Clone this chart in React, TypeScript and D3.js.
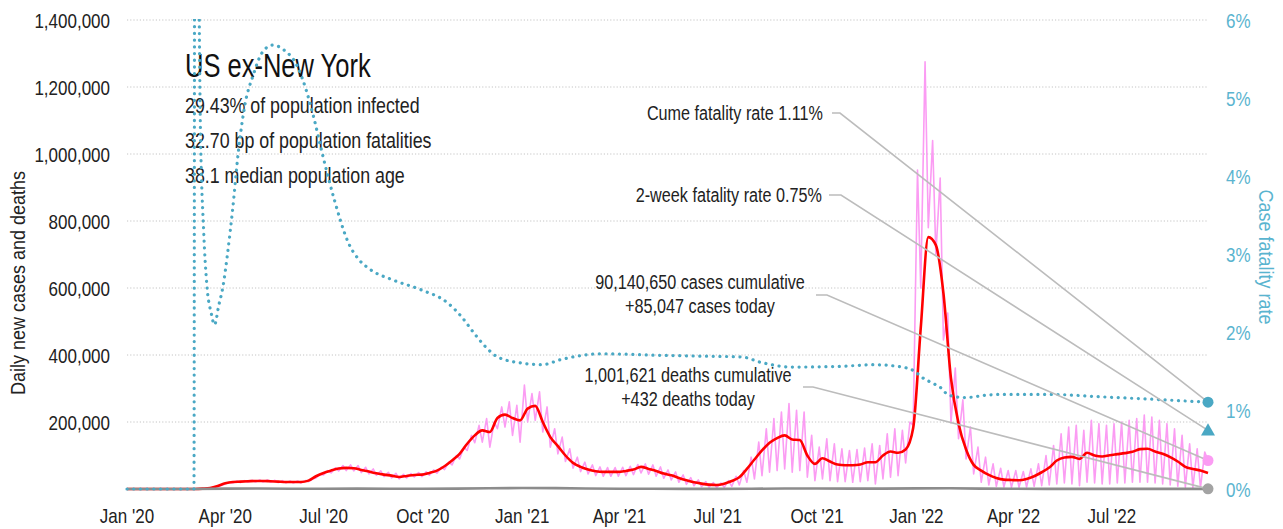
import React from "react";
import * as d3 from "d3";

const W = 1283;
const H = 529;
const FONT = "'Liberation Sans', Arial, sans-serif";

const START_DATE = "2020-01-01";
const END_DATE = "2022-09-28";

const leftTicks = [200000, 400000, 600000, 800000, 1000000, 1200000, 1400000];
const rightTicks = [0, 1, 2, 3, 4, 5, 6];

// weekly 7-day average of new cases (thousands), week i starts START_DATE + 7*i
const casesAvgK = [
  0, 0, 0, 0, 0, 0, 0, 0, 0, 0,
  1, 3, 9, 17, 21, 22, 23, 24, 24, 23,
  22, 21, 21, 21, 25, 38, 48, 55, 61, 63,
  62, 57, 52, 47, 43, 40, 36, 39, 42, 43,
  48, 55, 68, 85, 105, 135, 160, 175, 170, 212,
  222, 212, 205, 240, 248, 200, 155, 128, 100, 78,
  66, 58, 53, 51, 51, 51, 54, 58, 66, 60,
  54, 46, 41, 33, 26, 20, 16, 13, 12, 16,
  24, 35, 60, 88, 115, 138, 152, 160, 148, 146,
  100, 75, 92, 82, 73, 71, 71, 73, 80, 80,
  100, 112, 108, 118, 182, 480, 752, 728, 585, 330,
  195, 118, 72, 55, 42, 33, 28, 27, 26, 30,
  38, 50, 64, 85, 94, 96, 90, 108, 100, 97,
  101, 104, 107, 111, 119, 120, 112, 105, 95, 82,
  66, 60, 55, 48,
];

// daily new cases: weekly high (4 days after week start) and weekly low (week start), thousands
const casesPeakK = [
  0, 0, 0, 0, 0, 0, 0, 0, 0, 0.3,
  1.5, 4, 11, 20, 24, 25, 26, 27, 27, 26,
  25, 24, 24, 25, 30, 44, 55, 63, 70, 72,
  70, 65, 60, 54, 50, 47, 44, 46, 49, 51,
  57, 65, 80, 100, 125, 160, 190, 210, 200, 245,
  260, 250, 310, 285, 290, 245, 180, 155, 120, 95,
  80, 72, 66, 64, 64, 65, 68, 73, 75, 72,
  66, 57, 51, 42, 34, 27, 22, 19, 18, 25,
  38, 55, 95, 140, 180, 210, 230, 255, 235, 230,
  160, 125, 150, 135, 120, 115, 118, 122, 135, 130,
  165, 180, 175, 200, 952, 1275, 1040, 928, 525, 361,
  266, 185, 125, 95, 75, 62, 55, 55, 52, 60,
  75, 100, 130, 165, 185, 190, 175, 205, 195, 190,
  195, 200, 205, 210, 221, 215, 205, 195, 180, 160,
  135, 120, 110,
];
const casesTroughK = [
  0, 0, 0, 0, 0, 0, 0, 0, 0, 0,
  0.5, 2, 7, 15, 18, 19, 20, 21, 21, 20,
  19, 18, 18, 18, 22, 33, 42, 48, 54, 55,
  54, 49, 45, 41, 37, 33, 30, 33, 36, 37,
  41, 47, 58, 72, 90, 115, 138, 140, 125, 180,
  185, 160, 140, 200, 205, 170, 125, 105, 82, 62,
  52, 45, 40, 38, 38, 38, 40, 43, 48, 44,
  38, 32, 27, 20, 14, 10, 7, 5, 4, 5,
  8, 12, 20, 30, 40, 50, 55, 60, 50, 55,
  35, 25, 30, 25, 22, 22, 20, 22, 25, 15,
  30, 35, 40, 78, 190, 600, 780, 700, 445, 197,
  150, 90, 45, 20, 12, 8, 6, 5, 5, 6,
  8, 10, 12, 15, 18, 15, 10, 20, 18, 15,
  15, 18, 18, 20, 20, 20, 18, 15, 12, 8,
  5, 4, 3,
];

// daily deaths, first of each month from Jan 2020 (thousands)
const deathsMonthlyK = [
  0, 0, 0.05, 1.2, 1.3, 0.7, 0.8, 1.0, 0.8, 0.7, 1.0, 2.2,
  3.0, 2.5, 1.5, 0.7, 0.6, 0.4, 0.25, 0.6, 1.6, 1.5, 1.1, 1.2,
  1.8, 2.4, 1.2, 0.6, 0.35, 0.3, 0.4, 0.45, 0.4,
];

// case fatality rate (%)
const cfrDates = [
  "2020-01-01", "2020-03-03", "2020-03-04", "2020-03-09", "2020-03-12", "2020-03-15",
  "2020-03-19", "2020-03-22", "2020-03-26", "2020-03-30", "2020-04-03", "2020-04-08",
  "2020-04-13", "2020-04-19", "2020-04-27", "2020-05-05", "2020-05-15", "2020-05-25",
  "2020-06-07", "2020-06-15", "2020-06-22", "2020-06-29", "2020-07-11", "2020-07-24",
  "2020-08-03", "2020-08-12", "2020-09-04", "2020-09-29", "2020-10-24", "2020-11-06",
  "2020-11-17", "2020-11-28", "2020-12-09", "2021-01-01", "2021-01-19", "2021-02-07",
  "2021-03-15", "2021-05-10", "2021-06-15", "2021-07-23", "2021-08-10", "2021-09-08",
  "2021-10-25", "2021-11-22", "2021-12-19", "2021-12-31", "2022-01-06", "2022-01-15",
  "2022-01-24", "2022-01-28", "2022-02-06", "2022-02-16", "2022-03-06", "2022-03-20",
  "2022-05-05", "2022-06-20", "2022-08-05", "2022-09-28",
];
const cfrValues = [
  0, 0, 12, 4.6, 3.3, 2.6,
  2.25, 2.1, 2.35, 2.6, 3.0, 3.6,
  4.3, 4.9, 5.3, 5.58, 5.68, 5.62,
  5.4, 5.1, 4.75, 4.34, 3.7, 3.15,
  2.93, 2.82, 2.67, 2.55, 2.38, 2.2,
  2.0, 1.82, 1.69, 1.61, 1.59, 1.66,
  1.73, 1.71, 1.7, 1.69, 1.62, 1.56,
  1.57, 1.59, 1.56, 1.5, 1.43, 1.36,
  1.29, 1.23, 1.18, 1.17, 1.2, 1.21,
  1.21, 1.18, 1.15, 1.11,
];

const casesToday = 85047;
const deathsToday = 432;
const cumeFatalityRate = 1.11;
const twoWeekFatalityRate = 0.75;

const titleText = "US ex-New York";
const infoLines = [
  "29.43% of population infected",
  "32.70 bp of population fatalities",
  "38.1 median population age",
];

const TEAL = "#4aa8c4";
const TEAL_TEXT = "#5ab4cf";
const PINK = "#fb9cf3";
const RED = "#ff0000";
const GREY = "#8c8c8c";
const LEADER = "#bcbcbc";
const INK = "#222";

function T(props: {
  x: number; y: number; size: number; sx?: number; anchor?: string; fill?: string; rotate?: number; dy?: string; children: React.ReactNode;
}) {
  const { x, y, size, sx = 0.81, anchor = "start", fill = INK, rotate = 0, dy } = props;
  return (
    <text
      transform={`translate(${x},${y}) rotate(${rotate}) scale(${sx},1)`}
      textAnchor={anchor as any}
      fontSize={size}
      fill={fill}
      dy={dy}
    >
      {props.children}
    </text>
  );
}

export default function App() {
  const parse = d3.utcParse("%Y-%m-%d");
  const startDate = parse(START_DATE) as Date;
  const endDate = parse(END_DATE) as Date;
  const weekDate = (i: number) => d3.utcDay.offset(startDate, 7 * i);

  const x = d3.scaleUtc().domain([startDate, endDate]).range([127, 1208]);
  const yL = d3.scaleLinear().domain([0, 1400000]).range([489, 20]);
  const yR = d3.scaleLinear().domain([0, 6]).range([489, 20]);

  const avgPts: [Date, number][] = casesAvgK.map((v, i) => [weekDate(i), v * 1000]);
  const pinkPts: [Date, number][] = [];
  casesTroughK.forEach((t, i) => {
    pinkPts.push([weekDate(i), t * 1000]);
    pinkPts.push([d3.utcDay.offset(weekDate(i), 4), casesPeakK[i] * 1000]);
  });
  pinkPts.push([endDate, casesToday]);

  const deathPts: [Date, number][] = deathsMonthlyK.map((v, k) => [d3.utcMonth.offset(startDate, k), v * 1000]);
  deathPts.push([endDate, deathsToday]);

  const cfrPts: [Date, number][] = cfrDates.map((d, i) => [parse(d) as Date, cfrValues[i]]);

  const lineL = d3.line<[Date, number]>().x((d) => x(d[0])).y((d) => yL(d[1]));
  const lineLSmooth = d3.line<[Date, number]>().x((d) => x(d[0])).y((d) => yL(d[1])).curve(d3.curveMonotoneX);
  const lineR = d3.line<[Date, number]>().x((d) => x(d[0])).y((d) => yR(d[1])).curve(d3.curveMonotoneX);

  const xTicks = d3.utcMonth.every(3)!.range(startDate, d3.utcDay.offset(endDate, 1));
  const fmtX = d3.utcFormat("%b '%y");
  const fmtL = d3.format(",");

  const ex = x(endDate);
  const tri = d3.symbol(d3.symbolTriangle, 85)();

  const annotations = [
    { lines: ["Cume fatality rate 1.11%"], anchor: "end", tx: 823, ty: 120, lx0: 832, lx1: 840, ly: 113, ty2: yR(cumeFatalityRate) },
    { lines: ["2-week fatality rate 0.75%"], anchor: "end", tx: 822, ty: 202, lx0: 829, lx1: 841, ly: 195, ty2: yR(twoWeekFatalityRate) },
    { lines: ["90,140,650 cases cumulative", "+85,047 cases today"], anchor: "middle", tx: 700, ty: 289, lx0: 816, lx1: 827, ly: 295, ty2: yL(casesToday) },
    { lines: ["1,001,621 deaths cumulative", "+432 deaths today"], anchor: "middle", tx: 688, ty: 382, lx0: 803, lx1: 813, ly: 387, ty2: yL(deathsToday) },
  ];

  return (
    <svg width={W} height={H} style={{ position: "absolute", left: 0, top: 0, background: "#fff" }} fontFamily={FONT}>
      <defs>
        <clipPath id="plotClip">
          <rect x={110} y={19} width={1110} height={480} />
        </clipPath>
      </defs>

      {leftTicks.map((t) => (
        <line key={t} x1={127} x2={1208} y1={yL(t)} y2={yL(t)} stroke="#c4c4c4" strokeWidth={1} strokeDasharray="1.2 2" />
      ))}

      {leftTicks.map((t) => (
        <T key={t} x={110} y={yL(t)} dy="0.36em" anchor="end" size={21}>{fmtL(t)}</T>
      ))}
      <T x={25} y={283} rotate={-90} anchor="middle" size={20} sx={0.9}>Daily new cases and deaths</T>

      {rightTicks.map((t) => (
        <T key={t} x={1226} y={yR(t)} dy="0.36em" size={21} fill={TEAL_TEXT}>{t}%</T>
      ))}
      <T x={1259} y={257} rotate={90} anchor="middle" size={20} sx={0.9} fill={TEAL_TEXT}>Case fatality rate</T>

      {xTicks.map((d) => (
        <T key={+d} x={x(d)} y={523} anchor="middle" size={21}>{fmtX(d)}</T>
      ))}

      <T x={185} y={77} size={34} sx={0.75} fill="#111">{titleText}</T>
      {infoLines.map((s, i) => (
        <T key={s} x={185} y={113 + i * 35} size={22}>{s}</T>
      ))}

      <g clipPath="url(#plotClip)">
        <path d={lineL(pinkPts) || ""} fill="none" stroke={PINK} strokeWidth={1.6} strokeLinejoin="round" />
        <path d={lineLSmooth(avgPts) || ""} fill="none" stroke={RED} strokeWidth={2.6} strokeLinejoin="round" />
        <path d={lineL(deathPts) || ""} fill="none" stroke={GREY} strokeWidth={2.6} />
        <path d={lineR(cfrPts) || ""} fill="none" stroke={TEAL} strokeWidth={3.2} strokeLinecap="round" strokeDasharray="0.1 6.6" />
      </g>

      {annotations.map((a, i) => (
        <g key={i}>
          {a.lines.map((s, j) => (
            <T key={s} x={a.tx} y={a.ty + j * 24} anchor={a.anchor} size={20}>{s}</T>
          ))}
          <polyline points={`${a.lx0},${a.ly} ${a.lx1},${a.ly} ${ex},${a.ty2}`} fill="none" stroke={LEADER} strokeWidth={1.6} />
        </g>
      ))}

      <circle cx={ex} cy={yR(cumeFatalityRate)} r={5.5} fill={TEAL} />
      <path d={tri || ""} transform={`translate(${ex},${yR(twoWeekFatalityRate) + 1})`} fill={TEAL} />
      <circle cx={ex} cy={yL(casesToday)} r={5.5} fill={PINK} />
      <circle cx={ex} cy={yL(deathsToday)} r={5.5} fill="#a3a3a3" />
    </svg>
  );
}
